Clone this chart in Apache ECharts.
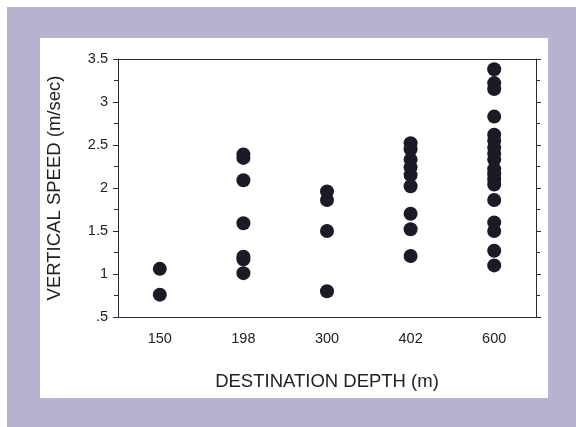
<!DOCTYPE html>
<html>
<head>
<meta charset="utf-8">
<script src="https://cdn.jsdelivr.net/npm/echarts@6/dist/echarts.min.js"></script>
<style>
  html, body { margin: 0; padding: 0; background: #fff; }
  #main { width: 576px; height: 427px; }
</style>
</head>
<body>
<div id="main"></div>
<script>
// 类目（目标深度）
var depths = ['150', '198', '300', '402', '600'];
// 各深度下的垂直速度 (m/sec)
var speed150 = [1.06, 0.76];
var speed198 = [2.39, 2.35, 2.09, 1.59, 1.20, 1.17, 1.01];
var speed300 = [1.96, 1.86, 1.50, 0.80];
var speed402 = [2.52, 2.45, 2.33, 2.24, 2.15, 2.02, 1.70, 1.52, 1.21];
var speed600 = [3.38, 3.22, 3.15, 2.83, 2.62, 2.55, 2.47, 2.40, 2.33,
                2.22, 2.16, 2.10, 2.04, 1.86, 1.60, 1.50, 1.27, 1.10];
// y轴刻度
var yMin = 0.5, yMax = 3.5, yStep = 0.5;

var groups = [speed150, speed198, speed300, speed402, speed600];
var points = [];
groups.forEach(function(list, i) {
    list.forEach(function(v) {
        points.push([depths[i], v]);
    });
});

var chart = echarts.init(document.getElementById('main'));
var textColor = '#222';
var lineColor = '#2a2a3a';
var font = 'Liberation Sans';

var option = {
    backgroundColor: '#fff',
    animation: false,
    // 背景：紫灰色边框 + 白色面板
    graphic: [
        { type: 'rect', z: -10, shape: { x: 7, y: 7, width: 569, height: 420 },
          style: { fill: '#b8b2d1' } },
        { type: 'rect', z: -9, shape: { x: 40, y: 38, width: 508, height: 360 },
          style: { fill: '#ffffff' } }
    ],
    grid: { left: 118, right: 40, top: 59, bottom: 110 },
    xAxis: [{
        type: 'category',
        data: depths,
        position: 'bottom',
        name: 'DESTINATION DEPTH (m)',
        nameLocation: 'middle',
        nameGap: 55,
        nameTextStyle: { color: textColor, fontSize: 18.5, fontFamily: font },
        axisLine: { lineStyle: { color: lineColor, width: 1 } },
        axisTick: { alignWithLabel: true, inside: false, length: 4, lineStyle: { color: lineColor } },
        axisLabel: { color: textColor, fontSize: 14.5, margin: 14, fontFamily: font },
        splitLine: { show: false }
    }, {
        type: 'category',
        data: depths,
        position: 'top',
        axisLine: { lineStyle: { color: lineColor, width: 1 } },
        axisTick: { alignWithLabel: true, inside: false, length: 4, lineStyle: { color: lineColor } },
        axisLabel: { show: false },
        splitLine: { show: false }
    }],
    yAxis: [{
        type: 'value',
        min: yMin, max: yMax, interval: yStep,
        position: 'left',
        name: 'VERTICAL SPEED (m/sec)',
        nameLocation: 'middle',
        nameGap: 54,
        nameTextStyle: { color: textColor, fontSize: 18.5, fontFamily: font },
        axisLine: { show: true, lineStyle: { color: lineColor, width: 1 } },
        axisTick: { show: true, inside: false, length: 5, lineStyle: { color: lineColor } },
        minorTick: { show: true, splitNumber: 2, length: 4, lineStyle: { color: lineColor } },
        axisLabel: {
            color: textColor, fontSize: 14.5, margin: 10, fontFamily: font,
            formatter: function(v) { return v === 0.5 ? '.5' : String(v); }
        },
        splitLine: { show: false }
    }, {
        type: 'value',
        min: yMin, max: yMax, interval: yStep,
        position: 'right',
        axisLine: { show: true, lineStyle: { color: lineColor, width: 1 } },
        axisTick: { show: true, inside: false, length: 5, lineStyle: { color: lineColor } },
        minorTick: { show: true, splitNumber: 2, length: 4, lineStyle: { color: lineColor } },
        axisLabel: { show: false },
        splitLine: { show: false }
    }],
    series: [{
        type: 'scatter',
        xAxisIndex: 0,
        yAxisIndex: 0,
        symbol: 'circle',
        symbolSize: 14,
        itemStyle: { color: '#1b1a26', opacity: 1 },
        data: points
    }]
};
chart.setOption(option);
</script>
</body>
</html>
